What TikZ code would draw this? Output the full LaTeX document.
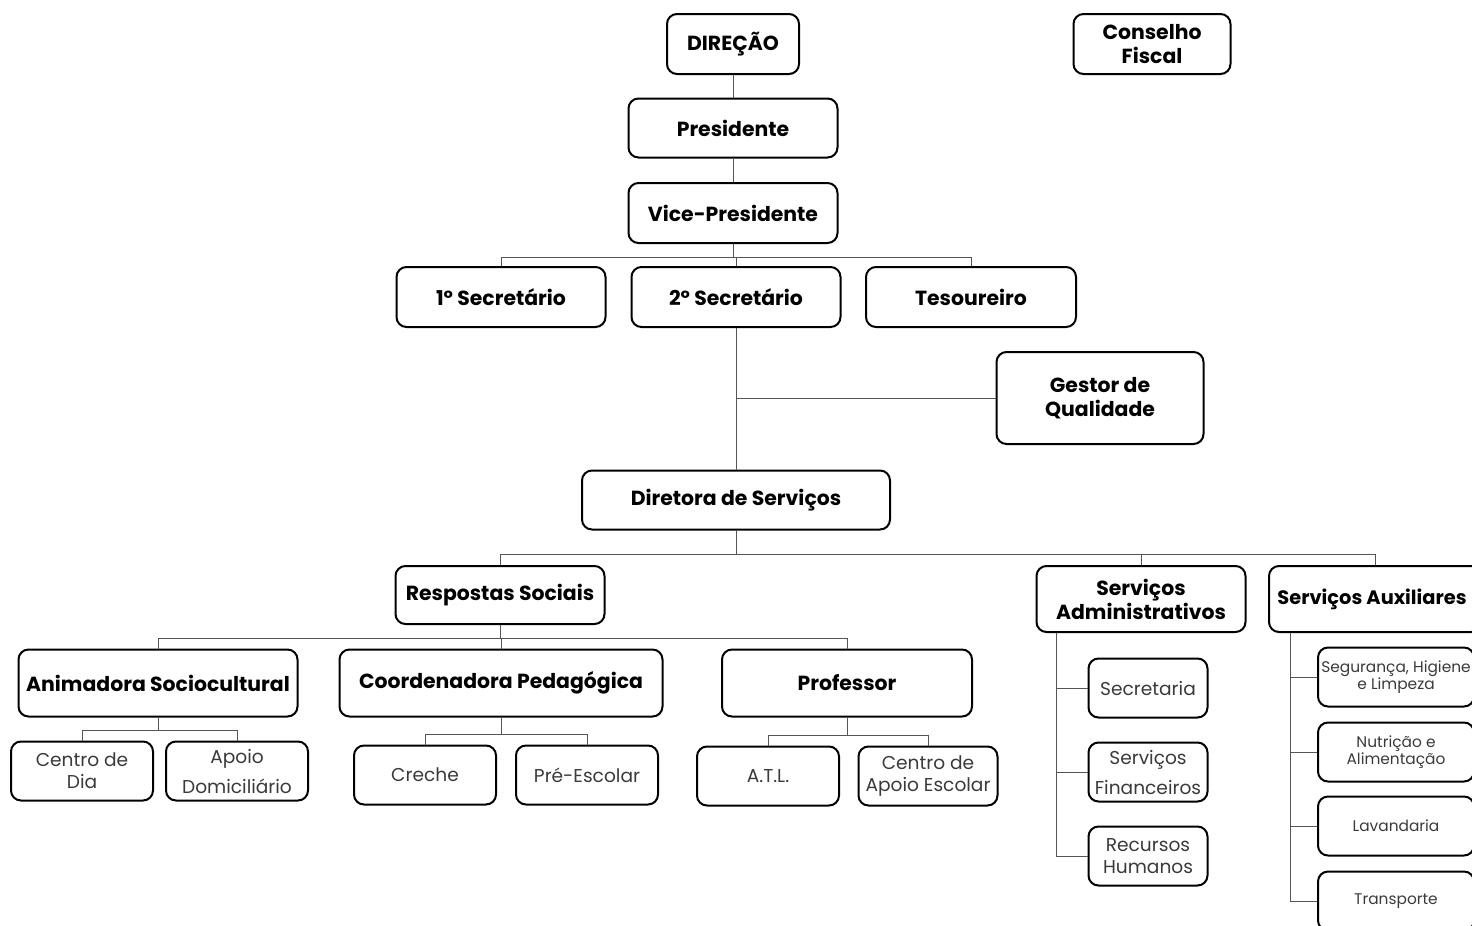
\documentclass[tikz,border=0pt]{standalone}
\usepackage{fontspec}
\setmainfont{Poppins}
\usetikzlibrary{positioning}

\definecolor{txtgray}{HTML}{3A3A3A}
\definecolor{linegray}{HTML}{555555}

\tikzset{
  chief/.style={draw, line width=1pt, rounded corners=5pt, align=center,
    font=\bfseries\fontsize{10.2}{12}\selectfont, inner sep=0pt},
  unit/.style={draw, line width=1pt, rounded corners=5pt, align=center,
    font=\fontsize{9.3}{11}\selectfont, text=txtgray, inner sep=0pt},
  wideunit/.style={font=\fontsize{9.3}{15}\selectfont},
  tinyunit/.style={unit, font=\fontsize{7.7}{8.5}\selectfont},
  link/.style={draw=linegray, line width=0.5pt}
}

\begin{document}
\begin{tikzpicture}[x=0.5pt, y=-0.5pt]

      \useasboundingbox (0,0) rectangle (1472,926);

      % top of the organisation
      \begin{scope}[every node/.style={chief}]
        \node (dir)   at (733,44)   [minimum width=66pt,  minimum height=30pt] {DIREÇÃO};
        \node (cf)    at (1152,44)  [minimum width=78.5pt, minimum height=30pt] {Conselho\\Fiscal};
        \node (pres)  at (733,128)  [minimum width=104.5pt, minimum height=29.5pt] {Presidente};
        \node (vice)  at (733,213)  [minimum width=104.5pt, minimum height=30pt] {Vice-Presidente};
        \node (sec1)  at (501,297)  [minimum width=104.5pt, minimum height=30pt] {1º Secretário};
        \node (sec2)  at (736,297)  [minimum width=104.5pt, minimum height=30pt] {2º Secretário};
        \node (tes)   at (971,297)  [minimum width=105pt, minimum height=30pt] {Tesoureiro};
        \node (gq)    at (1100,398) [minimum width=103.5pt, minimum height=46pt] {Gestor de\\Qualidade};
        \node (ds)    at (736,500)  [minimum width=154pt, minimum height=29.5pt] {Diretora de Serviços};
        \node (rs)    at (500,595)  [minimum width=104.5pt, minimum height=29pt] {Respostas Sociais};
        \node (sa)    at (1141,599) [minimum width=104.5pt, minimum height=33pt] {Serviços\\Administrativos};
        \node (saux)  at (1375,599) [minimum width=106pt, minimum height=33pt,
                                     font=\bfseries\fontsize{9.7}{12}\selectfont] {\hspace*{-3pt}Serviços Auxiliares};
        \node (anim)  at (158,683)  [minimum width=139.5pt, minimum height=33.5pt] {Animadora Sociocultural};
        \node (coord) at (501,683)  [minimum width=161.5pt, minimum height=33.5pt] {Coordenadora Pedagógica};
        \node (prof)  at (847,683)  [minimum width=125pt, minimum height=33.5pt] {Professor};
      \end{scope}

      % services at the bottom
      \begin{scope}[every node/.style={unit, minimum width=71pt, minimum height=29.5pt}]
        \node (cdia)   at (82,771)   {Centro de\\Dia};
        \node (apoio)  at (237,771)  [wideunit] {Apoio\\Domiciliário};
        \node (creche) at (425,775)  {Creche};
        \node (pre)    at (587,775)  {Pré-Escolar};
        \node (atl)    at (768,776)  {A.T.L.};
        \node (cae)    at (928,776)  [minimum width=69.5pt] {Centro de\\Apoio Escolar};
        \node (secr)   at (1148,688) [minimum width=59.5pt] {Secretaria};
        \node (fin)    at (1148,772) [minimum width=59.5pt, wideunit] {Serviços\\Financeiros};
        \node (rh)     at (1148,856) [minimum width=59.5pt] {Recursos\\Humanos};
      \end{scope}

      \begin{scope}[every node/.style={tinyunit, minimum width=78pt, minimum height=29.5pt}]
        \node (seg)   at (1396,677) {Segurança, Higiene\\e Limpeza};
        \node (nut)   at (1396,752) {Nutrição e\\Alimentação};
        \node (lav)   at (1396,826) {Lavandaria};
        \node (trans) at (1396,901) {Transporte};
      \end{scope}

      \begin{scope}[every path/.style={link}]
        \path (dir)  edge (pres);
        \path (pres) edge (vice);
        \draw (vice.south) -- ++(0,13) -| (sec1.north);
        \draw (vice.south) -- ++(0,13) -| (sec2.north);
        \draw (vice.south) -- ++(0,13) -| (tes.north);
        \draw (sec2.south) -- (ds.north);
        \draw (gq.west) -- (gq.west -| sec2.south);
        \draw (ds.south) -- ++(0,24) -| (rs.north);
        \draw (ds.south) -- ++(0,24) -| (sa.north);
        \draw (ds.south) -- ++(0,24) -| (saux.north);
        \draw (rs.south) -- ++(0,13) -| (anim.north);
        \draw (rs.south) -- ++(0,13) -| (coord.north);
        \draw (rs.south) -- ++(0,13) -| (prof.north);
        \draw (anim.south) -- ++(0,13) -| (cdia.north);
        \draw (anim.south) -- ++(0,13) -| (apoio.north);
        \draw (coord.south) -- ++(0,17) -| (creche.north);
        \draw (coord.south) -- ++(0,17) -| (pre.north);
        \draw (prof.south) -- ++(0,18) -| (atl.north);
        \draw (prof.south) -- ++(0,18) -| (cae.north);
        \draw (sa.south west) ++(21,0) |- (secr.west);
        \draw (sa.south west) ++(21,0) |- (fin.west);
        \draw (sa.south west) ++(21,0) |- (rh.west);
        \draw (saux.south west) ++(22,0) |- (seg.west);
        \draw (saux.south west) ++(22,0) |- (nut.west);
        \draw (saux.south west) ++(22,0) |- (lav.west);
        \draw (saux.south west) ++(22,0) |- (trans.west);
      \end{scope}

    \end{tikzpicture}
\end{document}
